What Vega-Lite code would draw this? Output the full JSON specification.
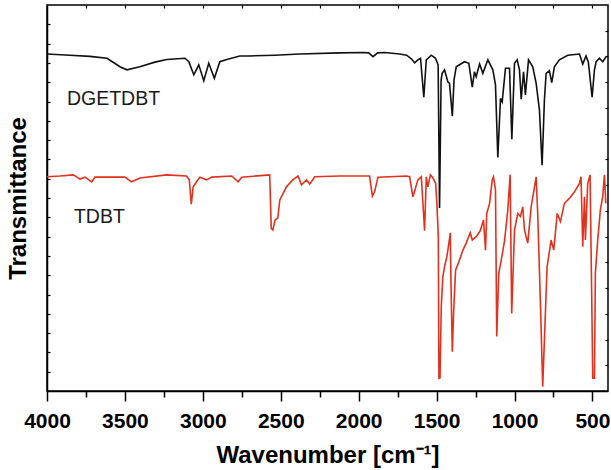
{
  "$schema": "https://vega.github.io/schema/vega-lite/v6.json",
  "width": 561,
  "height": 386,
  "autosize": {"type": "none"},
  "padding": {"left": 47, "top": 5, "right": 3, "bottom": 79},
  "background": "white",
  "config": {"view": {"stroke": "black", "strokeWidth": 1.5}, "font": "Liberation Sans"},
  "datasets": {
    "spec": [
      {"series":"DGETDBT","wn":4000,"T":87.3},{"series":"DGETDBT","wn":3853,"T":87.0},{"series":"DGETDBT","wn":3724,"T":86.7},{"series":"DGETDBT","wn":3615,"T":86.2},{"series":"DGETDBT","wn":3532,"T":84.0},{"series":"DGETDBT","wn":3487,"T":83.2},{"series":"DGETDBT","wn":3404,"T":84.0},{"series":"DGETDBT","wn":3308,"T":85.2},{"series":"DGETDBT","wn":3231,"T":85.9},{"series":"DGETDBT","wn":3115,"T":86.2},{"series":"DGETDBT","wn":3090,"T":85.3},{"series":"DGETDBT","wn":3058,"T":81.9},{"series":"DGETDBT","wn":3026,"T":84.5},{"series":"DGETDBT","wn":2994,"T":80.4},{"series":"DGETDBT","wn":2962,"T":84.9},{"series":"DGETDBT","wn":2926,"T":81.0},{"series":"DGETDBT","wn":2891,"T":85.3},{"series":"DGETDBT","wn":2846,"T":85.9},{"series":"DGETDBT","wn":2763,"T":86.8},{"series":"DGETDBT","wn":2699,"T":86.8},{"series":"DGETDBT","wn":2539,"T":87.0},{"series":"DGETDBT","wn":2378,"T":87.3},{"series":"DGETDBT","wn":2122,"T":87.6},{"series":"DGETDBT","wn":1974,"T":87.7},{"series":"DGETDBT","wn":1936,"T":87.6},{"series":"DGETDBT","wn":1908,"T":86.6},{"series":"DGETDBT","wn":1878,"T":87.6},{"series":"DGETDBT","wn":1833,"T":87.7},{"series":"DGETDBT","wn":1737,"T":87.3},{"series":"DGETDBT","wn":1692,"T":87.0},{"series":"DGETDBT","wn":1660,"T":86.0},{"series":"DGETDBT","wn":1641,"T":85.0},{"series":"DGETDBT","wn":1620,"T":85.8},{"series":"DGETDBT","wn":1603,"T":86.2},{"series":"DGETDBT","wn":1582,"T":76.1},{"series":"DGETDBT","wn":1566,"T":85.8},{"series":"DGETDBT","wn":1534,"T":87.0},{"series":"DGETDBT","wn":1507,"T":86.2},{"series":"DGETDBT","wn":1490,"T":84.5},{"series":"DGETDBT","wn":1481,"T":47.4},{"series":"DGETDBT","wn":1471,"T":80.6},{"series":"DGETDBT","wn":1464,"T":82.3},{"series":"DGETDBT","wn":1449,"T":83.2},{"series":"DGETDBT","wn":1428,"T":80.1},{"series":"DGETDBT","wn":1417,"T":79.7},{"series":"DGETDBT","wn":1399,"T":71.2},{"series":"DGETDBT","wn":1388,"T":80.6},{"series":"DGETDBT","wn":1374,"T":84.0},{"series":"DGETDBT","wn":1321,"T":85.3},{"series":"DGETDBT","wn":1293,"T":84.9},{"series":"DGETDBT","wn":1271,"T":78.7},{"series":"DGETDBT","wn":1257,"T":82.7},{"series":"DGETDBT","wn":1246,"T":81.4},{"series":"DGETDBT","wn":1224,"T":84.7},{"series":"DGETDBT","wn":1203,"T":82.3},{"series":"DGETDBT","wn":1171,"T":85.8},{"series":"DGETDBT","wn":1139,"T":83.2},{"series":"DGETDBT","wn":1122,"T":79.3},{"series":"DGETDBT","wn":1107,"T":60.5},{"series":"DGETDBT","wn":1090,"T":75.8},{"series":"DGETDBT","wn":1079,"T":74.9},{"series":"DGETDBT","wn":1058,"T":83.6},{"series":"DGETDBT","wn":1032,"T":83.6},{"series":"DGETDBT","wn":1017,"T":65.2},{"series":"DGETDBT","wn":1000,"T":84.9},{"series":"DGETDBT","wn":983,"T":85.8},{"series":"DGETDBT","wn":968,"T":83.2},{"series":"DGETDBT","wn":957,"T":75.6},{"series":"DGETDBT","wn":942,"T":82.7},{"series":"DGETDBT","wn":930,"T":76.7},{"series":"DGETDBT","wn":910,"T":85.8},{"series":"DGETDBT","wn":883,"T":84.0},{"series":"DGETDBT","wn":861,"T":79.7},{"series":"DGETDBT","wn":840,"T":72.8},{"series":"DGETDBT","wn":823,"T":58.5},{"series":"DGETDBT","wn":808,"T":75.4},{"series":"DGETDBT","wn":797,"T":82.3},{"series":"DGETDBT","wn":776,"T":83.0},{"series":"DGETDBT","wn":761,"T":79.9},{"series":"DGETDBT","wn":744,"T":84.0},{"series":"DGETDBT","wn":712,"T":85.8},{"series":"DGETDBT","wn":658,"T":87.0},{"series":"DGETDBT","wn":583,"T":87.3},{"series":"DGETDBT","wn":562,"T":84.7},{"series":"DGETDBT","wn":541,"T":86.8},{"series":"DGETDBT","wn":526,"T":85.2},{"series":"DGETDBT","wn":502,"T":76.1},{"series":"DGETDBT","wn":487,"T":83.2},{"series":"DGETDBT","wn":476,"T":85.3},{"series":"DGETDBT","wn":455,"T":86.2},{"series":"DGETDBT","wn":434,"T":85.3},{"series":"DGETDBT","wn":412,"T":86.6},
      {"series":"TDBT","wn":4000,"T":55.5},{"series":"TDBT","wn":3917,"T":55.7},{"series":"TDBT","wn":3831,"T":56.0},{"series":"TDBT","wn":3788,"T":54.9},{"series":"TDBT","wn":3756,"T":55.4},{"series":"TDBT","wn":3713,"T":54.2},{"series":"TDBT","wn":3692,"T":55.4},{"series":"TDBT","wn":3596,"T":55.4},{"series":"TDBT","wn":3500,"T":55.4},{"series":"TDBT","wn":3457,"T":54.2},{"series":"TDBT","wn":3404,"T":55.2},{"series":"TDBT","wn":3233,"T":56.0},{"series":"TDBT","wn":3105,"T":55.7},{"series":"TDBT","wn":3087,"T":54.7},{"series":"TDBT","wn":3074,"T":48.4},{"series":"TDBT","wn":3062,"T":52.9},{"series":"TDBT","wn":3040,"T":54.2},{"series":"TDBT","wn":3019,"T":55.4},{"series":"TDBT","wn":2976,"T":54.7},{"series":"TDBT","wn":2942,"T":55.4},{"series":"TDBT","wn":2814,"T":55.7},{"series":"TDBT","wn":2774,"T":54.2},{"series":"TDBT","wn":2750,"T":55.4},{"series":"TDBT","wn":2571,"T":56.0},{"series":"TDBT","wn":2561,"T":42.2},{"series":"TDBT","wn":2551,"T":41.7},{"series":"TDBT","wn":2536,"T":44.3},{"series":"TDBT","wn":2519,"T":44.8},{"series":"TDBT","wn":2506,"T":49.5},{"series":"TDBT","wn":2463,"T":52.9},{"series":"TDBT","wn":2423,"T":54.7},{"series":"TDBT","wn":2389,"T":55.7},{"series":"TDBT","wn":2367,"T":53.4},{"series":"TDBT","wn":2335,"T":54.7},{"series":"TDBT","wn":2314,"T":53.6},{"series":"TDBT","wn":2282,"T":55.5},{"series":"TDBT","wn":2122,"T":55.7},{"series":"TDBT","wn":1930,"T":55.7},{"series":"TDBT","wn":1912,"T":50.5},{"series":"TDBT","wn":1898,"T":51.6},{"series":"TDBT","wn":1876,"T":55.4},{"series":"TDBT","wn":1694,"T":55.7},{"series":"TDBT","wn":1673,"T":55.5},{"series":"TDBT","wn":1652,"T":50.3},{"series":"TDBT","wn":1635,"T":52.6},{"series":"TDBT","wn":1620,"T":54.7},{"series":"TDBT","wn":1598,"T":55.5},{"series":"TDBT","wn":1577,"T":41.5},{"series":"TDBT","wn":1566,"T":55.5},{"series":"TDBT","wn":1556,"T":52.9},{"series":"TDBT","wn":1540,"T":56.0},{"series":"TDBT","wn":1526,"T":55.4},{"series":"TDBT","wn":1506,"T":53.8},{"series":"TDBT","wn":1498,"T":48.6},{"series":"TDBT","wn":1489,"T":40.0},{"series":"TDBT","wn":1485,"T":3.3},{"series":"TDBT","wn":1478,"T":3.4},{"series":"TDBT","wn":1470,"T":21.8},{"series":"TDBT","wn":1460,"T":29.6},{"series":"TDBT","wn":1449,"T":32.2},{"series":"TDBT","wn":1434,"T":34.8},{"series":"TDBT","wn":1421,"T":38.3},{"series":"TDBT","wn":1412,"T":41.0},{"series":"TDBT","wn":1408,"T":28.8},{"series":"TDBT","wn":1399,"T":10.2},{"series":"TDBT","wn":1391,"T":20.1},{"series":"TDBT","wn":1378,"T":31.3},{"series":"TDBT","wn":1357,"T":33.5},{"series":"TDBT","wn":1331,"T":36.5},{"series":"TDBT","wn":1310,"T":38.3},{"series":"TDBT","wn":1284,"T":41.0},{"series":"TDBT","wn":1271,"T":39.1},{"series":"TDBT","wn":1246,"T":40.0},{"series":"TDBT","wn":1220,"T":41.5},{"series":"TDBT","wn":1199,"T":44.3},{"series":"TDBT","wn":1186,"T":36.5},{"series":"TDBT","wn":1178,"T":46.0},{"series":"TDBT","wn":1160,"T":48.6},{"series":"TDBT","wn":1143,"T":54.7},{"series":"TDBT","wn":1135,"T":55.5},{"series":"TDBT","wn":1122,"T":52.1},{"series":"TDBT","wn":1114,"T":14.1},{"series":"TDBT","wn":1101,"T":30.5},{"series":"TDBT","wn":1085,"T":33.9},{"series":"TDBT","wn":1064,"T":38.9},{"series":"TDBT","wn":1043,"T":46.9},{"series":"TDBT","wn":1028,"T":56.0},{"series":"TDBT","wn":1018,"T":20.1},{"series":"TDBT","wn":1000,"T":41.7},{"series":"TDBT","wn":979,"T":46.0},{"series":"TDBT","wn":962,"T":45.2},{"series":"TDBT","wn":947,"T":47.7},{"series":"TDBT","wn":936,"T":41.7},{"series":"TDBT","wn":915,"T":38.3},{"series":"TDBT","wn":893,"T":47.7},{"series":"TDBT","wn":861,"T":55.5},{"series":"TDBT","wn":851,"T":46.0},{"series":"TDBT","wn":833,"T":21.8},{"series":"TDBT","wn":819,"T":1.1},{"series":"TDBT","wn":808,"T":13.2},{"series":"TDBT","wn":791,"T":32.2},{"series":"TDBT","wn":765,"T":39.1},{"series":"TDBT","wn":748,"T":36.5},{"series":"TDBT","wn":726,"T":46.0},{"series":"TDBT","wn":705,"T":43.9},{"series":"TDBT","wn":680,"T":48.6},{"series":"TDBT","wn":648,"T":49.9},{"series":"TDBT","wn":615,"T":51.6},{"series":"TDBT","wn":583,"T":53.8},{"series":"TDBT","wn":573,"T":55.5},{"series":"TDBT","wn":562,"T":37.4},{"series":"TDBT","wn":551,"T":50.3},{"series":"TDBT","wn":545,"T":39.1},{"series":"TDBT","wn":530,"T":53.8},{"series":"TDBT","wn":515,"T":56.0},{"series":"TDBT","wn":502,"T":16.7},{"series":"TDBT","wn":498,"T":3.3},{"series":"TDBT","wn":487,"T":3.3},{"series":"TDBT","wn":481,"T":30.5},{"series":"TDBT","wn":466,"T":39.1},{"series":"TDBT","wn":449,"T":46.9},{"series":"TDBT","wn":434,"T":50.3},{"series":"TDBT","wn":423,"T":56.0},{"series":"TDBT","wn":414,"T":48.6}
    ],
    "labels": [
      {"label":"DGETDBT","wn":3872,"T":74.1},
      {"label":"TDBT","wn":3827,"T":43.6}
    ]
  },
  "layer": [
    {
      "data": {"name": "spec"},
      "mark": {"type": "line", "strokeWidth": 1.6, "clip": true},
      "encoding": {
        "x": {
          "field": "wn", "type": "quantitative",
          "scale": {"domain": [4000, 400], "nice": false, "zero": false},
          "axis": {
            "orient": "bottom",
            "values": [4000,3750,3500,3250,3000,2750,2500,2250,2000,1750,1500,1250,1000,750,500],
            "format": "d",
            "labelExpr": "datum.value % 500 === 0 ? datum.label : ''",
            "tickSize": {"condition": {"test": "datum.value % 500 === 0", "value": 10}, "value": 6},
            "grid": false,
            "domainColor": "black", "domainWidth": 1.5,
            "tickColor": "black", "tickWidth": 1.5,
            "labelFont": "Liberation Sans", "labelFontWeight": "bold", "labelFontSize": 21, "labelColor": "black",
            "labelPadding": 9, "labelOverlap": false, "labelFlush": false,
            "title": "Wavenumber [cm⁻¹]",
            "titleFont": "Liberation Sans", "titleFontWeight": "bold", "titleFontSize": 24, "titleColor": "black",
            "titlePadding": 12
          }
        },
        "y": {
          "field": "T", "type": "quantitative",
          "scale": {"domain": [0, 100], "nice": false, "zero": false},
          "axis": {
            "orient": "left",
            "values": [5,10,15,20,25,30,35,40,45,50,55,60,65,70,75,80,85,90,95],
            "labels": false,
            "tickSize": -3,
            "grid": false,
            "domainColor": "black", "domainWidth": 1.5,
            "tickColor": "black", "tickWidth": 1.2,
            "title": "Transmittance",
            "titleFont": "Liberation Sans", "titleFontWeight": "bold", "titleFontSize": 24, "titleColor": "black",
            "titlePadding": 16
          }
        },
        "color": {
          "field": "series", "type": "nominal",
          "scale": {"domain": ["DGETDBT", "TDBT"], "range": ["#111111", "#e2321f"]},
          "legend": null
        }
      }
    },
    {
      "data": {"name": "labels"},
      "mark": {"type": "text", "align": "left", "baseline": "alphabetic", "fontSize": 19.5, "font": "Liberation Sans", "color": "#1a1a1a"},
      "encoding": {
        "x": {"field": "wn", "type": "quantitative", "axis": null},
        "y": {"field": "T", "type": "quantitative", "axis": null},
        "text": {"field": "label"}
      }
    },
    {
      "data": {"name": "labels"},
      "mark": {"type": "point", "opacity": 0},
      "encoding": {
        "x": {
          "field": "wn", "type": "quantitative",
          "axis": {
            "orient": "top",
            "values": [3750,3500,3250,3000,2750,2500,2250,2000,1750,1500,1250,1000,750,500],
            "labels": false, "tickSize": -3, "domain": false, "grid": false,
            "tickColor": "black", "tickWidth": 1.2, "title": null
          }
        },
        "y": {
          "field": "T", "type": "quantitative",
          "axis": {
            "orient": "right",
            "values": [6.667,13.333,20,26.667,33.333,40,46.667,53.333,60,66.667,73.333,80,86.667,93.333],
            "labels": false, "tickSize": -3, "domain": false, "grid": false,
            "tickColor": "black", "tickWidth": 1.2, "title": null
          }
        }
      }
    }
  ],
  "resolve": {"axis": {"x": "independent", "y": "independent"}}
}
